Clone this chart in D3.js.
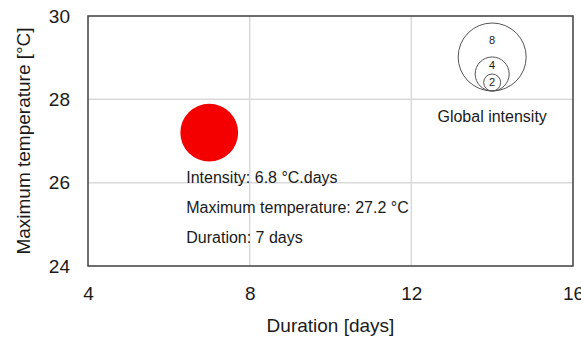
<!DOCTYPE html>
<html>
<head>
<meta charset="utf-8">
<script src="https://cdn.jsdelivr.net/npm/d3@7"></script>
<style>
    body { margin: 0; background: #fff; }
    text { font-family: "Liberation Sans", Arial, sans-serif; fill: #1a1a1a; }
</style>
</head>
<body>
<div id="chart"></div>
<script>
// Chart data
const xTicks = [4, 8, 12, 16];
const yTicks = [24, 26, 28, 30];
const events = [{ duration: 7, tmax: 27.2, intensity: 6.8 }];
const annotationLines = ['Intensity: 6.8 °C.days', 'Maximum temperature: 27.2 °C', 'Duration: 7 days'];
const legendSizes = [8, 4, 2];

const width = 581, height = 340;
const margin = { top: 16, right: 8, bottom: 74, left: 88 };
const plotW = width - margin.left - margin.right;
const plotH = height - margin.top - margin.bottom;

const svg = d3.select('#chart')
    .append('svg')
    .attr('width', width)
    .attr('height', height);

const x = d3.scaleLinear().domain([4, 16]).range([margin.left, margin.left + plotW]);
const y = d3.scaleLinear().domain([24, 30]).range([margin.top + plotH, margin.top]);
// bubble radius grows linearly with intensity
const r = d3.scaleLinear().domain([0, 8]).range([0, 34]);

// Gridlines (inner only, border is drawn later)
svg.append('g')
    .selectAll('line.vgrid')
    .data(xTicks.slice(1, -1))
    .enter().append('line')
    .attr('x1', d => x(d)).attr('x2', d => x(d))
    .attr('y1', margin.top).attr('y2', margin.top + plotH)
    .attr('stroke', '#d9d9d9').attr('stroke-width', 1.5);

svg.append('g')
    .selectAll('line.hgrid')
    .data(yTicks.slice(1, -1))
    .enter().append('line')
    .attr('x1', margin.left).attr('x2', margin.left + plotW)
    .attr('y1', d => y(d)).attr('y2', d => y(d))
    .attr('stroke', '#d9d9d9').attr('stroke-width', 1.5);

// Axes
const xAxis = svg.append('g')
    .attr('transform', `translate(0,${margin.top + plotH})`)
    .call(d3.axisBottom(x).tickValues(xTicks).tickFormat(d3.format('d')).tickSize(0).tickPadding(21));

const yAxis = svg.append('g')
    .attr('transform', `translate(${margin.left},0)`)
    .call(d3.axisLeft(y).tickValues(yTicks).tickFormat(d3.format('d')).tickSize(0).tickPadding(18));

[xAxis, yAxis].forEach(a => {
    a.select('.domain').remove();
    a.selectAll('text')
        .style('font-size', '19px')
        .style('font-family', '"Liberation Sans", Arial, sans-serif')
        .attr('fill', '#1a1a1a');
});

// Plot border
svg.append('rect')
    .attr('x', margin.left)
    .attr('y', margin.top)
    .attr('width', plotW)
    .attr('height', plotH)
    .attr('fill', 'none')
    .attr('stroke', '#3f3f3f')
    .attr('stroke-width', 1.5);

// Axis titles
svg.append('text')
    .attr('x', margin.left + plotW / 2)
    .attr('y', 332)
    .attr('text-anchor', 'middle')
    .style('font-size', '19px')
    .text('Duration [days]');

svg.append('text')
    .attr('transform', `translate(30,${margin.top + plotH / 2}) rotate(-90)`)
    .attr('text-anchor', 'middle')
    .style('font-size', '19px')
    .text('Maximum temperature [°C]');

// Event bubbles
svg.append('g')
    .selectAll('circle')
    .data(events)
    .enter().append('circle')
    .attr('cx', d => x(d.duration))
    .attr('cy', d => y(d.tmax))
    .attr('r', d => r(d.intensity))
    .attr('fill', '#f50000');

// Annotation under the bubble
const ev = events[0];
svg.append('g')
    .selectAll('text')
    .data(annotationLines)
    .enter().append('text')
    .attr('x', x(ev.duration) - 23)
    .attr('y', (d, i) => y(ev.tmax) + 50 + i * 30)
    .style('font-size', '16px')
    .text(d => d);

// Legend: nested circles sharing the same bottom point
const legendX = x(14);
const legendBottom = 91;
const legend = svg.append('g');

legend.selectAll('circle')
    .data(legendSizes)
    .enter().append('circle')
    .attr('cx', legendX)
    .attr('cy', d => legendBottom - r(d))
    .attr('r', d => r(d))
    .attr('fill', 'none')
    .attr('stroke', '#555')
    .attr('stroke-width', 1);

legend.selectAll('text.size')
    .data(legendSizes)
    .enter().append('text')
    .attr('class', 'size')
    .attr('x', legendX)
    .attr('y', (d, i) => {
        const top = legendBottom - 2 * r(d);
        const next = i < legendSizes.length - 1 ? legendBottom - 2 * r(legendSizes[i + 1]) : legendBottom;
        return (top + next) / 2;
    })
    .attr('dy', '0.35em')
    .attr('text-anchor', 'middle')
    .style('font-size', '11px')
    .text(d => d);

legend.append('text')
    .attr('x', legendX)
    .attr('y', 122)
    .attr('text-anchor', 'middle')
    .style('font-size', '16px')
    .text('Global intensity');
</script>
</body>
</html>
